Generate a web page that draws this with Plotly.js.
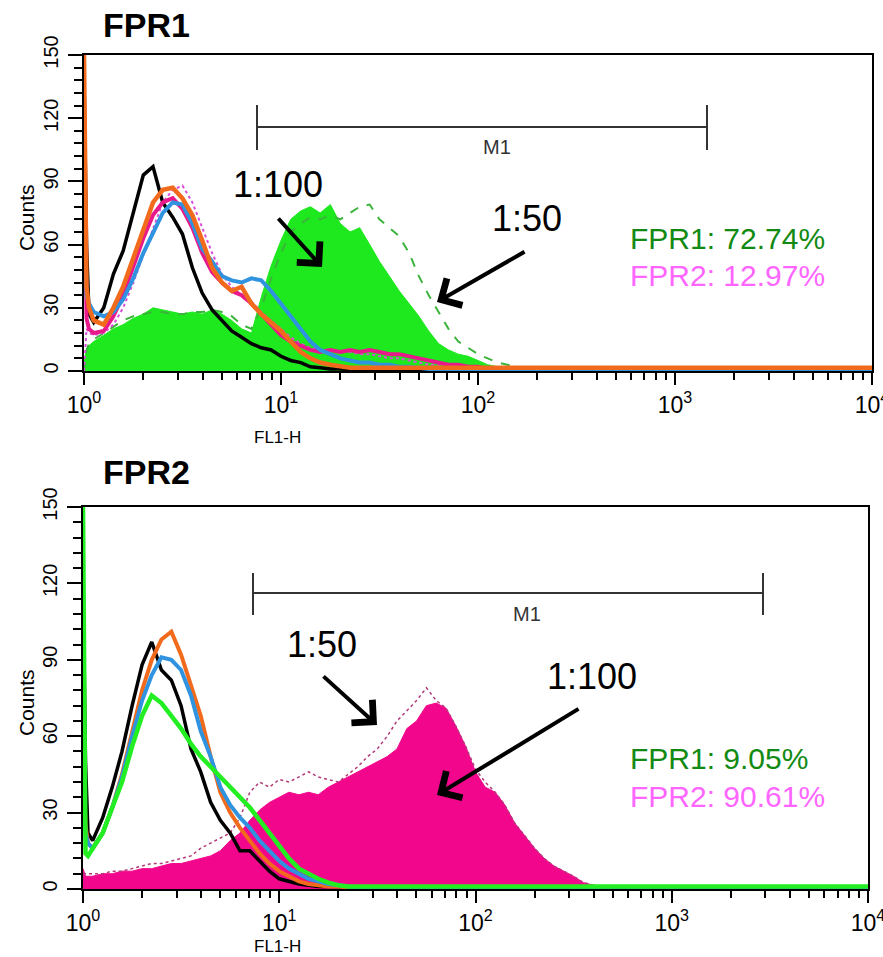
<!DOCTYPE html>
<html>
<head>
<meta charset="utf-8">
<script src="https://cdn.plot.ly/plotly-3.0.1.min.js"></script>
<style>html,body{margin:0;padding:0;background:#fff;}#chart{width:883px;height:957px;}</style>
</head>
<body>
<div id="chart"></div>
<script>
// FL1-H channel positions (shared by every histogram)
var fl = [1.00, 1.03, 1.06, 1.12, 1.26, 1.41, 1.58, 1.78, 2.00, 2.24, 2.51, 2.82, 3.16, 3.55, 3.98, 4.47, 5.01, 5.62, 6.31, 7.08, 7.94, 8.91,
          10.0, 11.2, 12.6, 14.1, 15.8, 17.8, 20.0, 22.4, 25.1, 28.2, 31.6, 35.5, 39.8, 44.7, 50.1, 56.2, 63.1, 70.8, 79.4, 89.1,
          100, 112, 126, 141, 158, 178, 200, 224, 251, 282, 316, 355, 398, 447, 501, 562, 631, 708, 794, 891, 1000, 2000, 5000, 10000];

// ---- Panel 1 (FPR1) counts ----
var p1Black  = [140, 60, 27, 23, 30, 46, 57, 75, 93, 97, 80, 73, 65, 49, 37, 29, 24, 19, 16, 13, 11, 10, 7, 5, 4, 2, 1.5, 1, 1, 0.5,
                0, 0, 0, 0, 0, 0, 0, 0, 0, 0, 0, 0, 0, 0, 0, 0, 0, 0, 0, 0, 0, 0, 0, 0, 0, 0, 0, 0, 0, 0, 0, 0, 0, 0, 0, 0];
var p1Orange = [150, 40, 30, 24, 22, 30, 40, 54, 68, 80, 86, 87, 82, 74, 62, 49, 42, 38, 40, 32, 27, 23, 19, 14, 9, 6, 4, 3, 2,
                1.5, 1.5, 1.5, 1.5, 1.5, 1.5, 1.5, 1.5, 1.5, 1.5, 1.5, 1.5, 1.5, 1.5, 1.5, 1.5, 1.5, 1.5, 1.5, 1.5, 1.5, 1.5, 1.5, 1.5,
                1.5, 1.5, 1.5, 1.5, 1.5, 1.5, 1.5, 1.5, 1.5, 1.5, 1.5, 1.5, 1.5];
var p1Blue   = [100, 36, 32, 28, 26, 28, 34, 44, 56, 66, 75, 80, 79, 70, 58, 52, 45, 43, 42, 44, 43, 38, 32, 26, 20, 14, 10, 8, 6, 5,
                4, 4, 3, 3, 2, 2, 1.5, 1, 1, 0.5, 0, 0, 0, 0, 0, 0, 0, 0, 0, 0, 0, 0, 0, 0, 0, 0, 0, 0, 0, 0, 0, 0, 0, 0, 0, 0];
var p1Pink   = [120, 25, 20, 18, 19, 26, 36, 50, 63, 74, 80, 82, 77, 68, 56, 47, 42, 38, 36, 32, 27, 22, 17, 14, 12, 10, 9, 10, 9, 10,
                9, 10, 9, 8, 8, 7, 6, 5, 4, 3, 3, 2, 2, 1, 1, 0.5, 0, 0, 0, 0, 0, 0, 0, 0, 0, 0, 0, 0, 0, 0, 0, 0, 0, 0, 0, 0];
var p1PinkDot = [0, 20, 18, 17, 18, 22, 30, 42, 55, 68, 80, 86, 88, 80, 68, 56, 46, 40, 36, 33, 28, 24, 20, 16, 13, 11, 10, 10, 9, 9,
                8, 8, 7, 6, 6, 5, 4, 3, 3, 2, 2, 1, 1, 0.5, 0, 0, 0, 0, 0, 0, 0, 0, 0, 0, 0, 0, 0, 0, 0, 0, 0, 0, 0, 0, 0, 0];
var p1Green100 = [5, 10, 12, 14, 17, 20, 22, 25, 27, 30, 29, 28, 27, 28, 27, 29, 27, 24, 20, 18, 35, 50, 62, 72, 76, 78, 75, 79, 70, 66,
                68, 60, 52, 45, 38, 32, 26, 19, 13, 10, 8, 7, 5, 3, 2, 1, 0.5, 0, 0, 0, 0, 0, 0, 0, 0, 0, 0, 0, 0, 0, 0, 0, 0, 0, 0, 0];
var p1Green50 = [0, 10, 13, 15, 18, 21, 24, 26, 27, 28, 28, 27, 27, 28, 28, 29, 28, 26, 22, 20, 30, 44, 56, 66, 70, 73, 72, 74, 72, 75,
                78, 79, 72, 68, 64, 56, 45, 36, 28, 20, 14, 11, 8, 6, 4, 3, 2, 1, 1, 0.5, 0, 0, 0, 0, 0, 0, 0, 0, 0, 0, 0, 0, 0, 0, 0, 0];

// ---- Panel 2 (FPR2) counts ----
var p2Black  = [120, 50, 22, 19, 28, 40, 54, 72, 88, 97, 86, 82, 72, 55, 46, 34, 27, 22, 15, 15, 11, 7, 4, 3, 2, 1.5, 1, 1, 1, 0.5,
                0, 0, 0, 0, 0, 0, 0, 0, 0, 0, 0, 0, 0, 0, 0, 0, 0, 0, 0, 0, 0, 0, 0, 0, 0, 0, 0, 0, 0, 0, 0, 0, 0, 0, 0, 0];
var p2Orange = [60, 25, 18, 16, 22, 32, 45, 62, 78, 90, 98, 101, 92, 80, 68, 52, 38, 30, 24, 19, 14, 10, 7, 5, 3, 2, 1.5, 1, 1, 0.5,
                0, 0, 0, 0, 0, 0, 0, 0, 0, 0, 0, 0, 0, 0, 0, 0, 0, 0, 0, 0, 0, 0, 0, 0, 0, 0, 0, 0, 0, 0, 0, 0, 0, 0, 0, 0];
var p2Blue   = [40, 22, 18, 16, 22, 32, 44, 60, 74, 84, 91, 90, 86, 76, 62, 52, 40, 33, 28, 24, 19, 15, 11, 8, 6, 4, 3, 2, 1.5, 1,
                0.5, 0, 0, 0, 0, 0, 0, 0, 0, 0, 0, 0, 0, 0, 0, 0, 0, 0, 0, 0, 0, 0, 0, 0, 0, 0, 0, 0, 0, 0, 0, 0, 0, 0, 0, 0];
var p2Green  = [150, 14, 13, 16, 22, 32, 42, 56, 68, 76, 73, 68, 63, 57, 52, 48, 44, 40, 36, 32, 27, 22, 17, 12, 8, 6, 4, 2.5, 1.5,
                1, 1, 1, 1, 1, 1, 1, 1, 1, 1, 1, 1, 1, 1, 1, 1, 1, 1, 1, 1, 1, 1, 1, 1, 1, 1, 1, 1, 1, 1, 1, 1, 1, 1, 1, 1, 1];
var p2Mag100 = [8, 5, 5, 5, 6, 6, 7, 7, 8, 8, 9, 10, 10, 11, 12, 13, 15, 19, 22, 27, 31, 34, 36, 38, 37, 38, 37, 40, 42, 44,
                46, 48, 50, 52, 55, 63, 66, 72, 73, 71, 64, 56, 46, 40, 38, 33, 26, 21, 16, 12, 9, 7, 5, 2.5, 1.5, 1, 0.5, 0, 0, 0, 0, 0, 0, 0, 0, 0];
var p2Mag50  = [6, 6, 6, 6, 6, 7, 7, 8, 9, 10, 10, 11, 12, 13, 16, 18, 20, 22, 28, 38, 42, 40, 43, 42, 44, 46, 44, 43, 42, 45,
                48, 52, 55, 60, 66, 70, 74, 79, 74, 71, 64, 56, 47, 42, 38, 33, 26, 21, 16, 12, 9, 7, 5, 2.5, 1.5, 1, 0.5, 0, 0, 0, 0, 0, 0, 0, 0, 0];

// axis labels
var xTickVals = [1, 10, 100, 1000, 10000];
var xTickText = ['10<sup>0</sup>', '10<sup>1</sup>', '10<sup>2</sup>', '10<sup>3</sup>', '10<sup>4</sup>'];
var yTickVals = [0, 30, 60, 90, 120, 150];
var yTickText = ['0', '30', '60', '90', '120', '150'];
var xMinor = [2,3,4,5,6,7,8,9,20,30,40,50,60,70,80,90,200,300,400,500,600,700,800,900,2000,3000,4000,5000,6000,7000,8000,9000];
var yMinor = [6,12,18,24,36,42,48,54,66,72,78,84,96,102,108,114,126,132,138,144];

var W = 883, H = 957;
function px(v){ return v / W; }
function py(v){ return 1 - v / H; }
var FONT = 'Liberation Sans, Arial, Helvetica, sans-serif';

function line(x, y, color, width, dash, xa, ya){
  return {x: x, y: y, type: 'scatter', mode: 'lines', xaxis: xa, yaxis: ya, hoverinfo: 'skip', showlegend: false,
          line: {color: color, width: width, dash: dash || 'solid', shape: 'linear'}};
}
function area(x, y, color, xa, ya){
  return {x: x, y: y, type: 'scatter', mode: 'lines', xaxis: xa, yaxis: ya, fill: 'tozeroy', fillcolor: color,
          hoverinfo: 'skip', showlegend: false, line: {color: color, width: 1, shape: 'linear'}};
}

var data = [
  area(fl, p1Green100, '#1ee81e', 'x', 'y'),
  line(fl, p1Green50, '#3cb43c', 2, 'dash', 'x', 'y'),
  line(fl, p1Black, '#000000', 3.5, null, 'x', 'y'),
  line(fl, p1PinkDot, '#d94fd9', 2, 'dot', 'x', 'y'),
  line(fl, p1Pink, '#e8198a', 4, null, 'x', 'y'),
  line(fl, p1Blue, '#2f93e0', 4, null, 'x', 'y'),
  line(fl, p1Orange, '#f26a1b', 4.5, null, 'x', 'y'),

  area(fl, p2Mag100, '#f2078c', 'x2', 'y2'),
  line(fl, p2Mag50, '#b23a7a', 1.5, 'dot', 'x2', 'y2'),
  line(fl, p2Black, '#000000', 3.5, null, 'x2', 'y2'),
  line(fl, p2Orange, '#f26a1b', 4, null, 'x2', 'y2'),
  line(fl, p2Blue, '#2f93e0', 4, null, 'x2', 'y2'),
  line(fl, p2Green, '#22ee22', 4.5, null, 'x2', 'y2')
];

function xAxis(dom, anchor){
  return {domain: dom, anchor: anchor, type: 'log', range: [0, 4], tickmode: 'array', tickvals: xTickVals, ticktext: xTickText,
          ticks: 'outside', ticklen: 12, tickwidth: 2, tickcolor: '#000', showline: true, linewidth: 2, linecolor: '#000',
          mirror: true, showgrid: false, zeroline: false, fixedrange: true, ticklabeloverflow: 'allow',
          tickfont: {family: FONT, size: 23, color: '#000'},
          minor: {tickmode: 'array', tickvals: xMinor, ticks: 'outside', ticklen: 7, tickwidth: 2, tickcolor: '#000', showgrid: false}};
}
function yAxis(dom, anchor){
  return {domain: dom, anchor: anchor, range: [0, 150], tickmode: 'array', tickvals: yTickVals, ticktext: yTickText,
          ticks: 'outside', ticklen: 14, tickwidth: 2, tickcolor: '#000', showline: true, linewidth: 2, linecolor: '#000',
          mirror: true, showgrid: false, zeroline: false, fixedrange: true, tickangle: -90, ticklabelstandoff: 2,
          ticklabeloverflow: 'allow',
          tickfont: {family: FONT, size: 20, color: '#000'},
          minor: {tickmode: 'array', tickvals: yMinor, ticks: 'outside', ticklen: 8, tickwidth: 2, tickcolor: '#000', showgrid: false}};
}

function txt(t, x, y, size, color, opts){
  var a = {text: t, xref: 'paper', yref: 'paper', x: px(x), y: py(y), showarrow: false,
           xanchor: 'center', yanchor: 'middle', font: {family: FONT, size: size, color: color || '#000'}};
  if (opts) for (var k in opts) a[k] = opts[k];
  return a;
}
function arrow(hx, hy, tx, ty){
  return {text: '', xref: 'paper', yref: 'paper', x: px(hx), y: py(hy), ax: tx - hx, ay: ty - hy,
          showarrow: true, arrowhead: 4, arrowsize: 1.5, arrowwidth: 4, arrowcolor: '#000', standoff: 0, startstandoff: 0};
}
function seg(x0, y0, x1, y1){
  return {type: 'line', xref: 'paper', yref: 'paper', x0: px(x0), y0: py(y0), x1: px(x1), y1: py(y1),
          line: {color: '#333', width: 2}};
}

var annotations = [
  txt('<b>FPR1</b>', 101, 25, 34, '#000', {xanchor: 'left'}),
  txt('<b>FPR2</b>', 101, 472, 34, '#000', {xanchor: 'left'}),
  txt('Counts', 26, 218, 21, '#000', {textangle: -90}),
  txt('Counts', 26, 703, 21, '#000', {textangle: -90}),
  txt('FL1-H', 277, 437, 17, '#000'),
  txt('FL1-H', 277, 946, 17, '#000'),
  txt('M1', 497, 147, 20, '#333'),
  txt('M1', 527, 614, 20, '#333'),
  txt('1:100', 278, 185, 36, '#000'),
  txt('1:50', 527, 218, 36, '#000'),
  txt('1:50', 322, 644, 36, '#000'),
  txt('1:100', 592, 676, 36, '#000'),
  txt('FPR1: 72.74%', 628, 238, 30, '#128a12', {xanchor: 'left'}),
  txt('FPR2: 12.97%', 628, 276, 30, '#ff66ff', {xanchor: 'left'}),
  txt('FPR1: 9.05%', 628, 758, 30, '#128a12', {xanchor: 'left'}),
  txt('FPR2: 90.61%', 628, 796, 30, '#ff66ff', {xanchor: 'left'}),
  arrow(322, 267, 277, 217),
  arrow(437, 302, 526, 251),
  arrow(377, 725, 322, 675),
  arrow(437, 795, 580, 708)
];

var shapes = [
  seg(257, 127, 707, 127), seg(257, 105, 257, 150), seg(707, 105, 707, 150),
  seg(253, 593, 763, 593), seg(253, 573, 253, 615), seg(763, 573, 763, 615)
];

var layout = {
  width: W, height: H, autosize: false,
  margin: {l: 0, r: 0, t: 0, b: 0, pad: 0},
  paper_bgcolor: '#fff', plot_bgcolor: '#fff',
  showlegend: false,
  xaxis: xAxis([px(84), px(872)], 'y'),
  yaxis: yAxis([py(371), py(55)], 'x'),
  xaxis2: xAxis([px(83), px(868)], 'y2'),
  yaxis2: yAxis([py(889), py(507)], 'x2'),
  annotations: annotations,
  shapes: shapes
};

Plotly.newPlot('chart', data, layout, {displayModeBar: false, staticPlot: true});
</script>
</body>
</html>
